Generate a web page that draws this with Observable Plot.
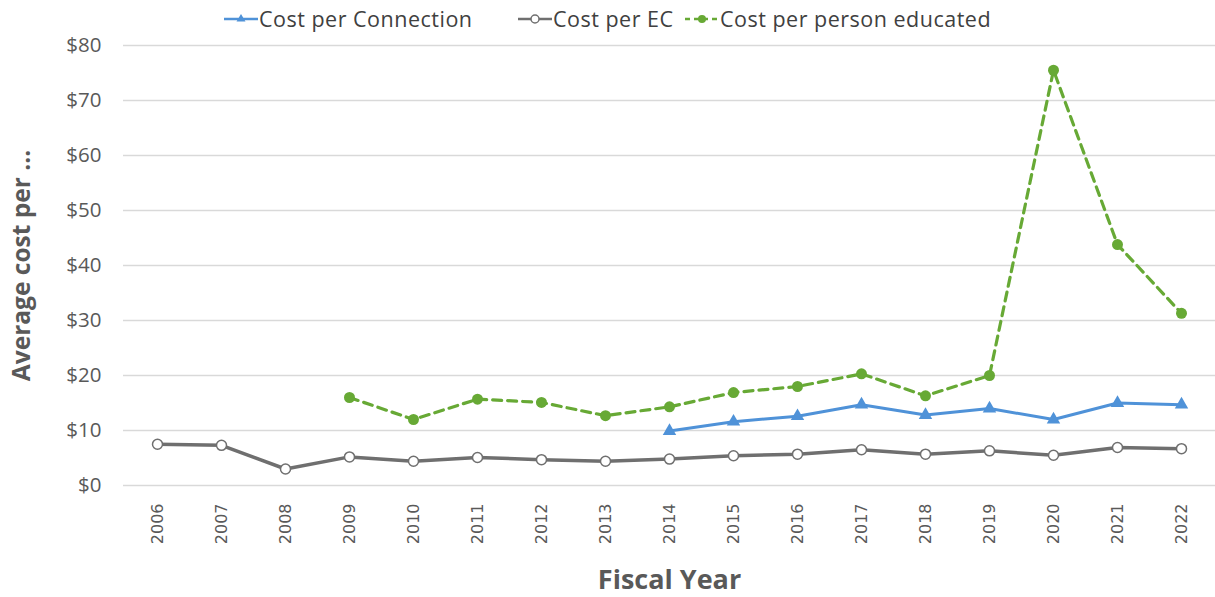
<!DOCTYPE html>
<html>
<head>
<meta charset="utf-8">
<script src="https://cdn.jsdelivr.net/npm/d3@7"></script>
<script src="https://cdn.jsdelivr.net/npm/@observablehq/plot@0.6"></script>
<style>
  html, body { margin: 0; padding: 0; background: #fff; }
  #wrap { width: 1215px; height: 597px; position: relative; overflow: hidden; font-family: "Open Sans", sans-serif; }
  #legend { height: 40px; position: relative; }
  .item { position: absolute; top: 4px; display: flex; align-items: center; font-size: 21.5px; letter-spacing: 0.5px; color: #404040; white-space: nowrap; }
  .item svg { margin-right: 1px; }
</style>
</head>
<body>
<div id="wrap">
  <div id="legend"></div>
  <div id="chart"></div>
</div>
<script>
const years = ["2006","2007","2008","2009","2010","2011","2012","2013","2014","2015","2016","2017","2018","2019","2020","2021","2022"];
const costPerEC = [7.5, 7.3, 3.0, 5.2, 4.4, 5.1, 4.7, 4.4, 4.8, 5.4, 5.7, 6.5, 5.7, 6.3, 5.5, 6.9, 6.7];
const costPerConnection = [null, null, null, null, null, null, null, null, 9.9, 11.6, 12.6, 14.7, 12.8, 14.0, 12.0, 15.0, 14.7];
const costPerPerson = [null, null, null, 16.0, 12.0, 15.7, 15.1, 12.7, 14.3, 16.9, 18.0, 20.3, 16.3, 20.0, 75.5, 43.8, 31.3];
const yTicks = [0, 10, 20, 30, 40, 50, 60, 70, 80];
const seriesNames = ["Cost per Connection", "Cost per EC", "Cost per person educated"];

const blue = "#4f92d8", gray = "#6f6f6f", green = "#67a935";

const toRows = (vals) => years.map((y, i) => ({year: y, value: vals[i]})).filter(d => d.value != null);
const ec = toRows(costPerEC), conn = toRows(costPerConnection), person = toRows(costPerPerson);

const plot = Plot.plot({
  width: 1215,
  height: 557,
  marginLeft: 123,
  marginRight: 0,
  marginTop: 5,
  marginBottom: 112,
  style: {fontFamily: "Open Sans, sans-serif", background: "#fff", overflow: "visible"},
  x: {type: "point", domain: years, padding: 0.5, label: null, axis: null},
  y: {domain: [0, 80], ticks: yTicks, label: null, axis: null},
  marks: [
    Plot.ruleY(yTicks, {stroke: "#d9d9d9", strokeWidth: 1.5}),
    Plot.axisY(yTicks, {tickSize: 0, tickPadding: 22, tickFormat: d => "$" + d, fontSize: 20.5, fill: "#595959", label: null}),
    Plot.text(years, {x: d => d, frameAnchor: "bottom", dy: 18, rotate: -90, textAnchor: "end", lineAnchor: "middle", fontSize: 16, fontFamily: "DejaVu Sans", fill: "#595959", text: d => d}),
    Plot.line(ec, {x: "year", y: "value", stroke: gray, strokeWidth: 3.5}),
    Plot.dot(ec, {x: "year", y: "value", r: 5, stroke: gray, fill: "#fff", strokeWidth: 1.5}),
    Plot.line(conn, {x: "year", y: "value", stroke: blue, strokeWidth: 3}),
    Plot.dot(conn, {x: "year", y: "value", symbol: "triangle", r: 5, fill: blue, stroke: "none"}),
    Plot.line(person, {x: "year", y: "value", stroke: green, strokeWidth: 3.2, strokeDasharray: "9,6"}),
    Plot.dot(person, {x: "year", y: "value", r: 5.5, fill: green, stroke: "none"}),
    Plot.text(["Fiscal Year"], {frameAnchor: "bottom", dy: 95, fontSize: 27, fontWeight: "bold", fill: "#595959", text: d => d, lineAnchor: "middle", textAnchor: "middle"}),
    Plot.text(["Average cost per ..."], {frameAnchor: "left", dx: -101, rotate: -90, fontSize: 24.5, fontWeight: "bold", fill: "#595959", text: d => d, textAnchor: "middle", lineAnchor: "middle"})
  ]
});
document.getElementById("chart").appendChild(plot);

// Legend
const legend = document.getElementById("legend");
const specs = [
  {name: seriesNames[0], color: blue, left: 224, marker: "tri", dash: null},
  {name: seriesNames[1], color: gray, left: 518, marker: "open", dash: null},
  {name: seriesNames[2], color: green, left: 685, marker: "dot", dash: "5,4"}
];
specs.forEach(s => {
  const div = document.createElement("div");
  div.className = "item";
  div.style.left = s.left + "px";
  let m = "";
  if (s.marker === "tri") m = `<path d="M17,4 L21.5,11.5 L12.5,11.5 Z" fill="${s.color}"/>`;
  if (s.marker === "open") m = `<circle cx="17" cy="9" r="4" fill="#fff" stroke="${s.color}" stroke-width="1.5"/>`;
  if (s.marker === "dot") m = `<circle cx="17" cy="9" r="4" fill="${s.color}"/>`;
  div.innerHTML = `<svg width="34" height="18"><line x1="0" x2="34" y1="9" y2="9" stroke="${s.color}" stroke-width="2.5" ${s.dash ? `stroke-dasharray="${s.dash}"` : ""}/>${m}</svg><span>${s.name}</span>`;
  legend.appendChild(div);
});
</script>
</body>
</html>
